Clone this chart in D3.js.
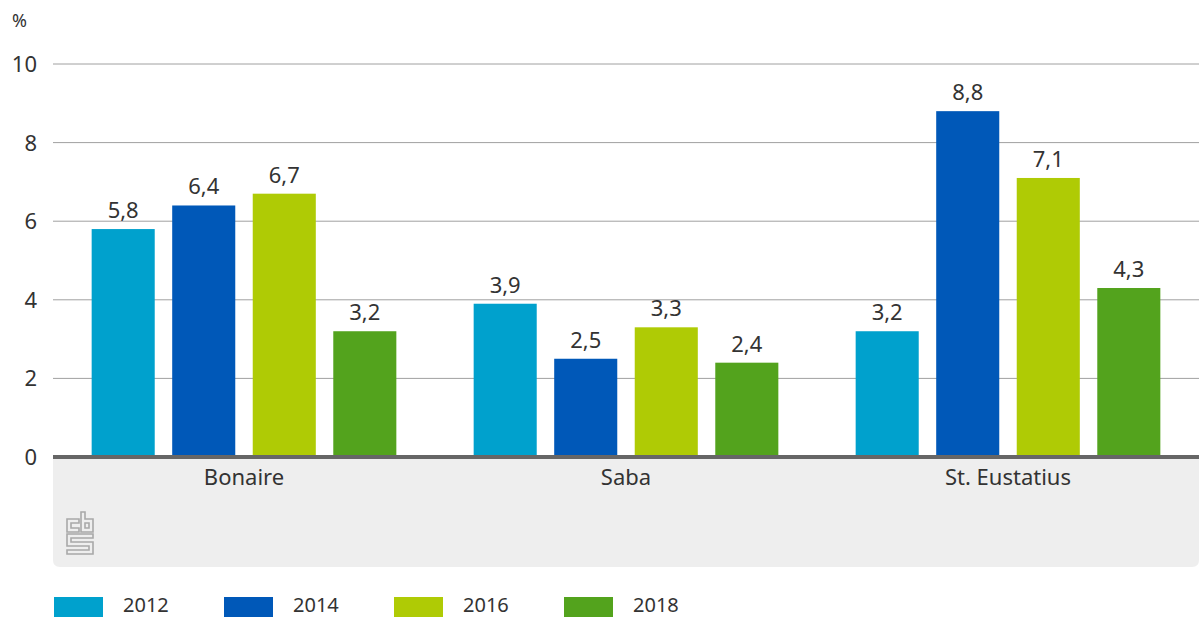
<!DOCTYPE html>
<html>
<head>
<meta charset="utf-8">
<script src="https://cdn.jsdelivr.net/npm/d3@7"></script>
<style>
  body { margin: 0; background: #fff; }
  text { font-family: "Noto Sans", "Open Sans", sans-serif; fill: #333; }
</style>
</head>
<body>
<div id="chart"></div>
<script>
    var islands = ["Bonaire", "Saba", "St. Eustatius"];
    var years = ["2012", "2014", "2016", "2018"];
    var values2012 = [5.8, 3.9, 3.2];
    var values2014 = [6.4, 2.5, 8.8];
    var values2016 = [6.7, 3.3, 7.1];
    var values2018 = [3.2, 2.4, 4.3];
    var yTicks = [0, 2, 4, 6, 8, 10];
    var colors = ["#00a1cd", "#0058b8", "#afcb05", "#53a31d"];

(function () {
    var width = 1200,
        height = 618;

    var series = [values2012, values2014, values2016, values2018];
    var rows = [];
    islands.forEach(function (island, i) {
        years.forEach(function (year, j) {
            rows.push({ island: island, year: year, value: series[j][i], color: colors[j] });
        });
    });

    var svg = d3.select("#chart")
        .append("svg")
        .attr("width", width)
        .attr("height", height);

    var plotLeft = 53, plotRight = 1199, plotTop = 64, plotBottom = 457;

    var x0 = d3.scaleBand().domain(islands).range([plotLeft, plotRight]).padding(0);
    var x1 = d3.scaleBand().domain(years).range([0, x0.bandwidth()])
        .paddingInner(0.217).paddingOuter(0.48);
    var y = d3.scaleLinear().domain([0, 10]).range([plotBottom, plotTop]);

    // grey footer band
    svg.append("path")
        .attr("d", function () {
            var r = 7, x = plotLeft, yy = plotBottom + 2, w = plotRight - plotLeft, h = 567 - yy;
            return "M" + x + "," + yy + "H" + (x + w) + "V" + (yy + h - r) +
                "Q" + (x + w) + "," + (yy + h) + " " + (x + w - r) + "," + (yy + h) +
                "H" + (x + r) + "Q" + x + "," + (yy + h) + " " + x + "," + (yy + h - r) + "Z";
        })
        .attr("fill", "#eeeeee");

    // gridlines
    svg.selectAll(".grid")
        .data(yTicks.filter(function (d) { return d > 0; }))
        .enter().append("line")
        .attr("x1", plotLeft).attr("x2", plotRight)
        .attr("y1", function (d) { return y(d); })
        .attr("y2", function (d) { return y(d); })
        .attr("stroke", "#a0a0a0")
        .attr("stroke-width", 1);

    // y labels
    svg.selectAll(".ylab")
        .data(yTicks)
        .enter().append("text")
        .attr("x", 37)
        .attr("y", function (d) { return y(d) + 8; })
        .attr("text-anchor", "end")
        .style("font-size", "22px")
        .text(function (d) { return d; });

    svg.append("text")
        .attr("x", 12).attr("y", 27)
        .style("font-size", "18px")
        .text("%");

    // bars
    var groups = svg.selectAll(".group")
        .data(islands)
        .enter().append("g")
        .attr("transform", function (d) { return "translate(" + x0(d) + ",0)"; });

    groups.selectAll("rect")
        .data(function (d) { return rows.filter(function (r) { return r.island == d; }); })
        .enter().append("rect")
        .attr("x", function (d) { return x1(d.year); })
        .attr("y", function (d) { return y(d.value); })
        .attr("width", x1.bandwidth())
        .attr("height", function (d) { return y(0) - y(d.value); })
        .attr("fill", function (d) { return d.color; });

    groups.selectAll(".val")
        .data(function (d) { return rows.filter(function (r) { return r.island == d; }); })
        .enter().append("text")
        .attr("x", function (d) { return x1(d.year) + x1.bandwidth() / 2; })
        .attr("y", function (d) { return y(d.value) - 11; })
        .attr("text-anchor", "middle")
        .style("font-size", "22px")
        .text(function (d) { return d.value.toFixed(1).replace(".", ","); });

    // zero axis
    svg.append("line")
        .attr("x1", plotLeft).attr("x2", plotRight)
        .attr("y1", plotBottom).attr("y2", plotBottom)
        .attr("stroke", "#666")
        .attr("stroke-width", 4);

    // category labels
    svg.selectAll(".cat")
        .data(islands)
        .enter().append("text")
        .attr("x", function (d) { return x0(d) + x0.bandwidth() / 2; })
        .attr("y", 485)
        .attr("text-anchor", "middle")
        .style("font-size", "22px")
        .text(function (d) { return d; });

    // cbs logo
    var logo = svg.append("g")
        .attr("transform", "translate(67,512)")
        .attr("fill", "none")
        .attr("stroke", "#a8a8a8")
        .attr("stroke-width", 1.6);
    logo.append("path").attr("d", "M0,7V20H12V16H4V11H12V7Z");
    logo.append("path").attr("d", "M14,0V20H26V7H18V0Z M18,11H22V16H18Z");
    logo.append("path").attr("d", "M0,22H26V26H4V30H26V42H0V38H22V34H0Z");

    // legend
    var legend = svg.selectAll(".legend")
        .data(years)
        .enter().append("g")
        .attr("transform", function (d, i) { return "translate(" + (54 + i * 170) + ",597)"; });

    legend.append("rect")
        .attr("width", 49)
        .attr("height", 20)
        .attr("fill", function (d, i) { return colors[i]; });

    legend.append("text")
        .attr("x", 69)
        .attr("y", 15)
        .style("font-size", "20px")
        .text(function (d) { return d; });
})();
</script>
</body>
</html>
